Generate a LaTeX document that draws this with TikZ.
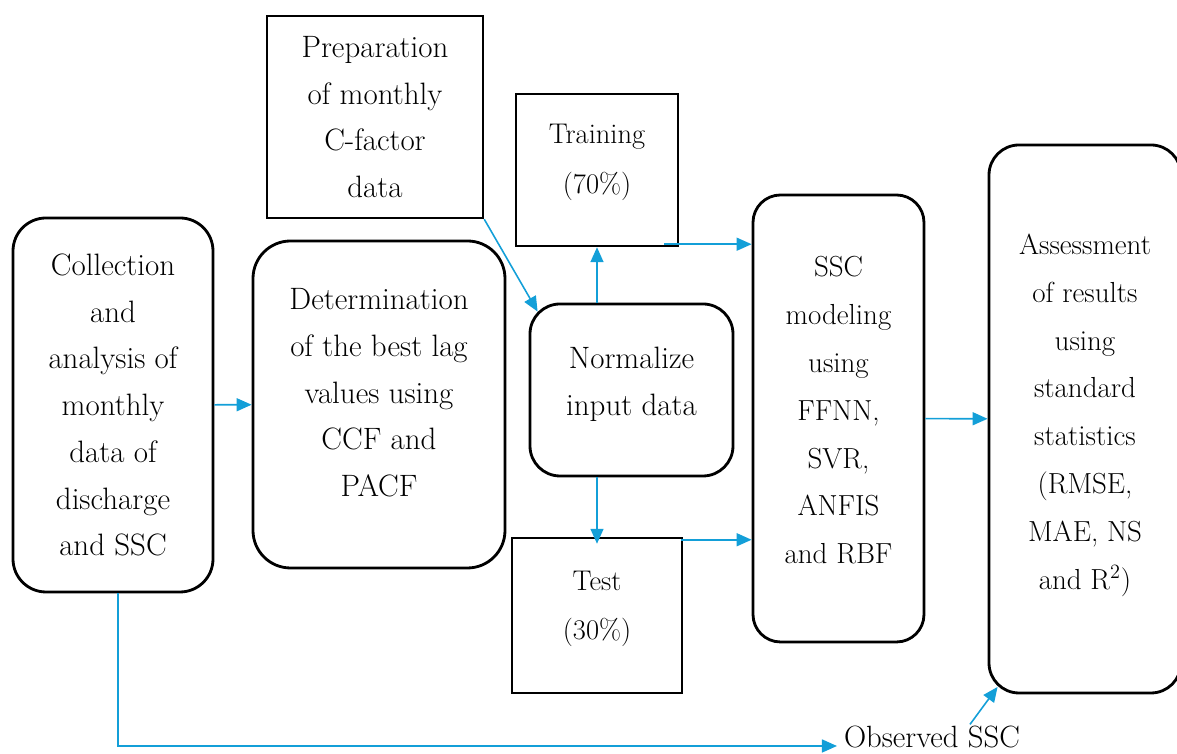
\documentclass[tikz,border=0pt]{standalone}
\usepackage{xcolor}
\usepackage{tikz}
\usetikzlibrary{arrows.meta,positioning}
\definecolor{flowblue}{HTML}{139FD8}

\begin{document}
\begin{tikzpicture}[
  font=\fontsize{17.6}{26.6}\selectfont,
  >={Triangle[length=3mm,width=2.6mm]},
  stage/.style={rectangle, rounded corners=6mm, draw=black, line width=1.6pt,
                align=center, inner sep=0pt},
  datbox/.style={rectangle, draw=black, line width=1.4pt, align=center, inner sep=0pt},
  midfont/.style={font=\fontsize{16.5}{27.2}\selectfont},
  smallfont/.style={font=\fontsize{16.2}{28}\selectfont},
  flow/.style={->, flowblue, line width=0.9pt},
]
\useasboundingbox (0,0) rectangle (23.54,15.08);

% --- Left column: data collection and lag selection ---
\node[stage] (coll) at (2.26,6.98) [minimum width=4.0cm, minimum height=7.48cm, rounded corners=6.6mm]
  {Collection\\and\\analysis of\\monthly\\data of\\discharge\\and SSC};
\node[stage] (det) at (7.58,6.99) [minimum width=5.04cm, minimum height=6.54cm, rounded corners=7.5mm]
  {Determination\\of the best lag\\values using\\CCF and\\PACF\\[-0.46cm]};
\node[datbox] (prep) at (7.5,12.74) [minimum width=4.32cm, minimum height=4.04cm]
  {Preparation\\of monthly\\C-factor\\data};

% --- Middle column: normalisation and data split ---
\node[stage] (norm) at (12.63,7.28) [minimum width=4.06cm, minimum height=3.44cm]
  {Normalize\\input data\\[-0.58cm]};
\node[datbox, smallfont] (train) at (11.94,11.68) [minimum width=3.24cm, minimum height=3.04cm]
  {Training\\(70\%)\\[-0.54cm]};
\node[datbox, smallfont] (test) at (11.94,2.77) [minimum width=3.4cm, minimum height=3.1cm]
  {Test\\(30\%)\\[-0.58cm]};

% --- Right column: modelling and assessment ---
\node[stage, midfont] (ssc) at (16.77,6.71) [minimum width=3.42cm, minimum height=8.94cm, rounded corners=5.5mm]
  {SSC\\modeling\\using\\FFNN,\\SVR,\\ANFIS\\and RBF\\[-0.62cm]};
\node[stage, midfont] (assess) at (21.7,6.7) [minimum width=3.84cm, minimum height=10.96cm]
  {Assessment\\of results\\using\\standard\\statistics\\(RMSE,\\MAE, NS\\and R\textsuperscript{2})\\[-0.66cm]};
\node[font=\fontsize{17.5}{22}\selectfont, inner sep=1pt] (obs) at (18.64,0.33) {Observed SSC};

% --- Connectors ---
\draw[flow] (coll) -- (det);
\draw[flow] (prep.south east) -- ([xshift=1.8mm,yshift=-1.8mm]norm.north west);
\draw[flow] (train.south |- norm.north) -- (train.south);
\draw[flow] ([xshift=-3mm,yshift=0.6mm]train.south east) coordinate (tr) -- (tr -| ssc.west);
\draw[flow] (test.north |- norm.south) -- ([yshift=-1.4mm]test.north);
\draw[flow] ([xshift=-0.4mm,yshift=-0.6mm]test.north east) coordinate (te) -- (te -| ssc.west);
\draw[flow] (ssc) -- (assess);
\draw[flow] ([xshift=1mm]coll.south) |- ([xshift=-1mm,yshift=-1.7mm]obs.west);
\draw[flow] ([xshift=7.6mm]obs.north) -- ([xshift=2mm,yshift=1.5mm]assess.south west);

\end{tikzpicture}
\end{document}
